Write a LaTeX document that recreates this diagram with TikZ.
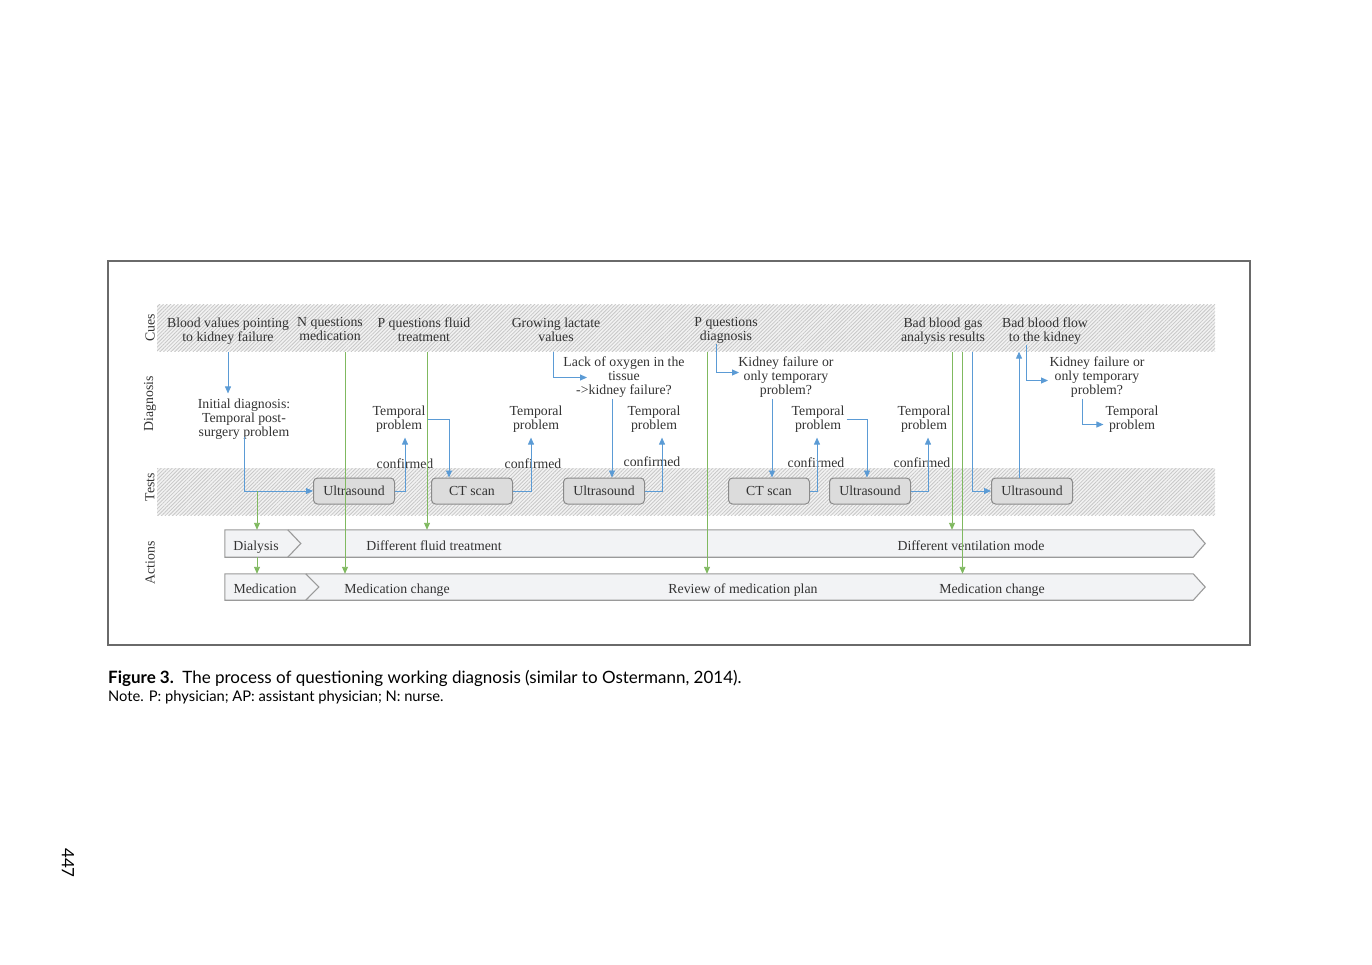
\documentclass[tikz,border=0pt]{standalone}
\usepackage{fontspec}
\setmainfont{Liberation Serif}
\newfontfamily\capfont{Lato}
\usetikzlibrary{arrows.meta,patterns.meta,calc}

\definecolor{lnblue}{HTML}{5B9BD5}
\definecolor{lngreen}{HTML}{80B960}
\definecolor{txt}{HTML}{333333}
\definecolor{boxfill}{HTML}{DCDCDC}
\definecolor{boxline}{HTML}{8A8A8A}
\definecolor{rowfill}{HTML}{F2F3F5}
\definecolor{rowline}{HTML}{9A9A9A}
\definecolor{framecol}{HTML}{6A6A6A}
\definecolor{bandbg}{HTML}{F2F2F2}

\begin{document}
\begin{tikzpicture}[x=1pt,y=-1pt,
  lbl/.style={font=\fontsize{13.8}{14}\selectfont, text=txt, align=center, inner sep=2pt,
    execute at begin node=\strut, execute at end node=\strut, yshift=-2.5pt},
  lane/.style={font=\fontsize{13.8}{14}\selectfont, text=txt, inner sep=2pt, rotate=90},
  band/.style={draw=none, inner sep=0pt, minimum width=1058pt, minimum height=46.5pt,
    preaction={fill=bandbg},
    pattern={Lines[angle=45,distance=2.6pt,line width=0.8pt]}, pattern color=black!22},
  tbox/.style={font=\fontsize{13.8}{14}\selectfont, text=txt, inner sep=2pt,
    draw=boxline, fill=boxfill, rounded corners=4pt,
    minimum width=81pt, minimum height=26pt, line width=1pt},
  rowslot/.style={draw=none, inner sep=0pt, minimum width=980pt},
  rowshape/.style={draw=rowline, fill=rowfill, line width=1.1pt, line join=miter},
  chev/.style={draw=rowline, line width=1.1pt},
  barrow/.style={draw=lnblue, line width=0.9pt, -{Triangle[length=7pt,width=6pt]}},
  gline/.style={draw=lngreen, line width=0.9pt},
  garrow/.style={gline, -{Triangle[length=7pt,width=6pt]}}]

\useasboundingbox (0,0) rectangle (1372,964);

% outer frame
\draw[framecol, line width=1.4pt] (108,261) rectangle (1250,645);

% hatched lanes for cues and tests
\node[band] (cuesband) at (686,328) {};
\node[band, minimum height=47pt] (testband) at (686,491.5) {};

% lane titles
\node[lane] (lcues) at (150,328) {Cues};
\node[lane] (ldiag) at (150,404) {Diagnosis};
\node[lane] (ltest) at (150,487) {Tests};
\node[lane] (lact) at (150,563) {Actions};

% action rows
\node[rowslot, minimum height=27pt] (row1) at (715,543.5) {};
\node[rowslot, minimum height=26pt] (row2) at (715,587) {};
\draw[rowshape] (row1.north west) -- ([xshift=-12pt]row1.north east) -- (row1.east)
  -- ([xshift=-12pt]row1.south east) -- (row1.south west) -- cycle;
\draw[rowshape] (row2.north west) -- ([xshift=-12pt]row2.north east) -- (row2.east)
  -- ([xshift=-12pt]row2.south east) -- (row2.south west) -- cycle;
\draw[chev] ([xshift=63pt]row1.north west) -- ([xshift=76pt]row1.west) -- ([xshift=63pt]row1.south west);
\draw[chev] ([xshift=81pt]row2.north west) -- ([xshift=94pt]row2.west) -- ([xshift=81pt]row2.south west);

\node[lbl] (dial) at (256,545) {Dialysis};
\node[lbl] (dft) at (434,545) {Different fluid treatment};
\node[lbl] (dvm) at (971,545) {Different ventilation mode};
\node[lbl] (med) at (265,588) {Medication};
\node[lbl] (mc1) at (397,588) {Medication change};
\node[lbl] (rmp) at (743,588) {Review of medication plan};
\node[lbl] (mc2) at (992,588) {Medication change};

% cues
\node[lbl] (cue1) at (228,329) {Blood values pointing\\to kidney failure};
\node[lbl] (cue2) at (330,329) {N questions\\medication};
\node[lbl] (cue3) at (424,329) {P questions fluid\\treatment};
\node[lbl] (cue4) at (556,329) {Growing lactate\\values};
\node[lbl] (cue5) at (726,329) {P questions\\diagnosis};
\node[lbl] (cue6) at (943,329) {Bad blood gas\\analysis results};
\node[lbl] (cue7) at (1045,329) {Bad blood flow\\to the kidney};

% diagnoses
\node[lbl] (diag0) at (244,417) {Initial diagnosis:\\Temporal post-\\surgery problem};
\node[lbl] (t1) at (399,417) {Temporal\\problem};
\node[lbl] (t2) at (536,417) {Temporal\\problem};
\node[lbl] (lack) at (624,375) {Lack of oxygen in the\\tissue\\->kidney failure?};
\node[lbl] (t3) at (654,417) {Temporal\\problem};
\node[lbl] (kf1) at (786,375) {Kidney failure or\\only temporary\\problem?};
\node[lbl] (t4) at (818,417) {Temporal\\problem};
\node[lbl] (t5) at (924,417) {Temporal\\problem};
\node[lbl] (kf2) at (1097,375) {Kidney failure or\\only temporary\\problem?};
\node[lbl] (t6) at (1132,417) {Temporal\\problem};

% confirmation labels
\node[lbl] (c1) at (405,463) {confirmed};
\node[lbl] (c2) at (533,463) {confirmed};
\node[lbl] (c3) at (652,461) {confirmed};
\node[lbl] (c4) at (816,462) {confirmed};
\node[lbl] (c5) at (922,462) {confirmed};

% tests
\node[tbox] (us1) at (354,491) {Ultrasound};
\node[tbox] (ct1) at (472,491) {CT scan};
\node[tbox] (us2) at (604,491) {Ultrasound};
\node[tbox] (ct2) at (769,491) {CT scan};
\node[tbox] (us3) at (870,491) {Ultrasound};
\node[tbox] (us4) at (1032,491) {Ultrasound};

% reasoning flow (blue)
\draw[barrow] (cue1.south |- cuesband.south) -- ([yshift=3pt]diag0.north -| cue1.south);
\draw[barrow] ([yshift=6pt]diag0.south) |- (us1.west);
\draw[barrow] (us1.east) -| ([xshift=6pt,yshift=-2pt]t1.south);
\draw[barrow] (t1.east) -| ([xshift=-23pt]ct1.north);
\draw[barrow] (ct1.east) -| ([xshift=-5pt,yshift=-2pt]t2.south);
\draw[barrow] ([xshift=-3pt]cue4.south |- cuesband.south) |- ([xshift=-37pt]lack.center);
\draw[barrow] ([xshift=-12pt,yshift=2pt]lack.south) -- ([xshift=-12pt]lack.south |- us2.north);
\draw[barrow] (us2.east) -| ([xshift=8pt,yshift=-2pt]t3.south);
\draw[barrow] ([xshift=-10pt,yshift=3pt]cue5.south) |- ([xshift=-47pt,yshift=5pt]kf1.center);
\draw[barrow] ([xshift=-14pt,yshift=2pt]kf1.south) -- ([xshift=-14pt]kf1.south |- ct2.north);
\draw[barrow] (ct2.east) -| ([xshift=-1pt,yshift=-2pt]t4.south);
\draw[barrow] (t4.east) -| ([xshift=-3pt]us3.north);
\draw[barrow] (us3.east) -| ([xshift=4pt,yshift=-2pt]t5.south);
\draw[barrow] ([xshift=29pt]cue6.south |- cuesband.south) |- (us4.west);
\draw[barrow] ([xshift=-13pt]us4.north) -- ([xshift=-13pt]us4.north |- cuesband.south);
\draw[barrow] ([xshift=-19pt,yshift=3pt]cue7.south) |- ([xshift=-49pt,yshift=-3pt]kf2.center);
\draw[barrow] ([xshift=-15pt,yshift=2pt]kf2.south) |- ([yshift=-5pt]t6.west);

% actions triggered (green)
\draw[garrow] ([xshift=13pt]diag0.south |- us1.west) -- ([xshift=13pt]diag0.south |- row1.north);
\draw[garrow] ([xshift=13pt]diag0.south |- row1.south) -- ([xshift=13pt]diag0.south |- row2.north);
\draw[garrow] ([xshift=15pt]cue2.south |- cuesband.south) -- ([xshift=15pt]cue2.south |- row2.north);
\draw[garrow] ([xshift=3pt]cue3.south |- cuesband.south) -- ([xshift=3pt]cue3.south |- row1.north);
\draw[garrow] ([xshift=-19pt]cue5.south |- cuesband.south) -- ([xshift=-19pt]cue5.south |- row2.north);
\draw[garrow] ([xshift=9pt]cue6.south |- cuesband.south) -- ([xshift=9pt]cue6.south |- row1.north);
\draw[garrow] ([xshift=19.5pt]cue6.south |- cuesband.south) -- ([xshift=19.5pt]cue6.south |- row2.north);

% caption and page number
\node[anchor=base west, inner sep=0pt, font=\capfont\fontsize{17}{19}\selectfont, text=black] (cap) at (108,683)
  {\textbf{Figure 3.}\enspace The process of questioning working diagnosis (similar to Ostermann, 2014).};
\node[anchor=base west, inner sep=0pt, font=\capfont\fontsize{14.7}{16}\selectfont, text=black] (note) at (108,701)
  {Note. P: physician; AP: assistant physician; N: nurse.};
\node[rotate=-90, inner sep=0pt, font=\capfont\fontsize{17}{17}\selectfont, text=black] (pg) at (68,863) {447};
\end{tikzpicture}
\end{document}
